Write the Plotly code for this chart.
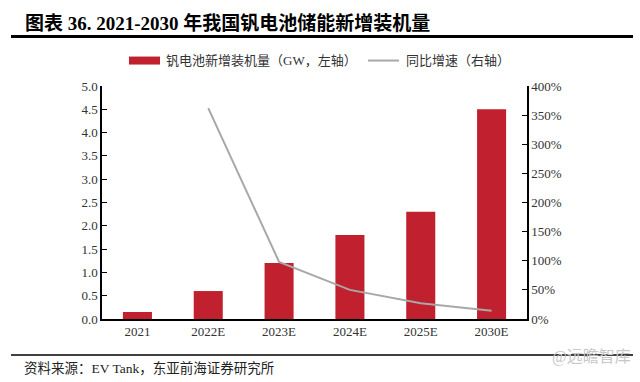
import plotly.graph_objects as go

categories = ["2021", "2022E", "2023E", "2024E", "2025E", "2030E"]
capacity_gw = [0.15, 0.6, 1.2, 1.8, 2.3, 4.5]
growth_cats = ["2022E", "2023E", "2024E", "2025E", "2030E"]
growth_rate = [3.62, 0.98, 0.50, 0.27, 0.14]

title_text = "图表 36. 2021-2030 年我国钒电池储能新增装机量"
bar_name = "钒电池新增装机量（GW，左轴）"
line_name = "同比增速（右轴）"
source_text = "资料来源：EV Tank，东亚前海证券研究所"

BAR_COLOR = "#C1202F"
LINE_COLOR = "#A8A8A8"
SERIF = "Liberation Serif, Times New Roman, Noto Sans CJK SC, serif"
CJK = "Liberation Serif, Noto Sans CJK SC, serif"

# plot area in pixels
L, R, T, B = 102, 527, 85.5, 319
W, H = 640, 382
def px(x):
    return (x - L) / (R - L)
def py(y):
    return (B - y) / (B - T)

fig = go.Figure()
fig.add_trace(go.Bar(x=categories, y=capacity_gw, name=bar_name,
                     marker=dict(color=BAR_COLOR, line=dict(width=0)),
                     width=0.41, showlegend=False, yaxis="y"))
fig.add_trace(go.Scatter(x=growth_cats, y=growth_rate, name=line_name,
                         mode="lines", line=dict(color=LINE_COLOR, width=2),
                         showlegend=False, yaxis="y2"))

shapes = [
    dict(type="line", xref="paper", yref="paper", x0=px(11), x1=px(633),
         y0=py(36), y1=py(36), line=dict(color="black", width=3)),
    dict(type="line", xref="paper", yref="paper", x0=px(11), x1=px(633),
         y0=py(355), y1=py(355), line=dict(color="black", width=1.5)),
    # legend swatches
    dict(type="rect", xref="paper", yref="paper", x0=px(129), x1=px(160),
         y0=py(64), y1=py(56), fillcolor=BAR_COLOR, line=dict(width=0)),
    dict(type="line", xref="paper", yref="paper", x0=px(368), x1=px(399),
         y0=py(60), y1=py(60), line=dict(color=LINE_COLOR, width=2)),
]

annotations = [
    dict(text="<b>" + title_text + "</b>", xref="paper", yref="paper",
         x=px(23), y=py(22), xanchor="left", yanchor="middle", showarrow=False,
         font=dict(family=CJK, size=19, color="black")),
    dict(text=bar_name, xref="paper", yref="paper", x=px(164), y=py(60),
         xanchor="left", yanchor="middle", showarrow=False,
         font=dict(family=CJK, size=13, color="#333333")),
    dict(text=line_name, xref="paper", yref="paper", x=px(404), y=py(60),
         xanchor="left", yanchor="middle", showarrow=False,
         font=dict(family=CJK, size=13, color="#333333")),
    dict(text=source_text, xref="paper", yref="paper", x=px(22), y=py(368),
         xanchor="left", yanchor="middle", showarrow=False,
         font=dict(family=CJK, size=13.5, color="#222222")),
    dict(text="@远瞻智库", xref="paper", yref="paper", x=px(633), y=py(357),
         xanchor="right", yanchor="middle", showarrow=False,
         font=dict(family=CJK, size=16, color="#C8C8C8")),
]

fig.update_layout(
    width=W, height=H,
    margin=dict(l=L, r=W - R, t=T, b=H - B),
    paper_bgcolor="white", plot_bgcolor="white",
    bargap=0.59,
    shapes=shapes, annotations=annotations,
    xaxis=dict(type="category", showline=True, linecolor="black", linewidth=1.5,
               ticks="", showgrid=False,
               tickfont=dict(family=SERIF, size=13, color="#333333")),
    yaxis=dict(range=[0, 5], dtick=0.5, tickformat=".1f", showline=True,
               linecolor="black", linewidth=1.5, ticks="inside", ticklen=5,
               tickcolor="black", showgrid=False, zeroline=False,
               tickfont=dict(family=SERIF, size=13, color="#333333")),
    yaxis2=dict(range=[0, 4], dtick=0.5, tickformat=".0%", overlaying="y",
                side="right", showline=True, linecolor="black", linewidth=1.5,
                ticks="inside", ticklen=5, tickcolor="black", showgrid=False,
                zeroline=False,
                tickfont=dict(family=SERIF, size=13, color="#333333")),
)

fig.write_html("out.html", config={"displayModeBar": False},
               post_script="document.body.style.margin='0';"
                           "document.body.style.overflow='hidden';")
